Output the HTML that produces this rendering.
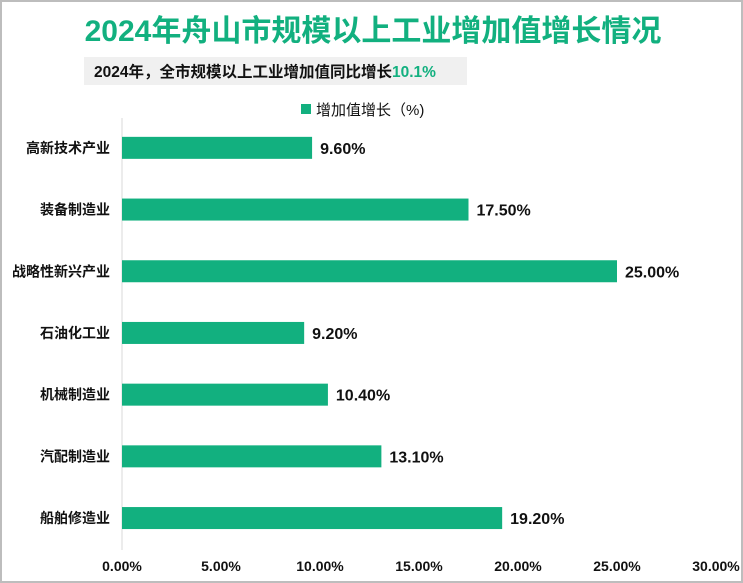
<!DOCTYPE html>
<html><head><meta charset="utf-8"><style>
body{margin:0;background:#fff;}
#c{position:relative;width:743px;height:583px;overflow:hidden;font-family:"Liberation Sans","Noto Sans CJK SC",sans-serif;}
</style></head><body>
<div id="c">
<svg width="743" height="583">
<rect x="1" y="1" width="741" height="581" fill="#fff" stroke="#bdbdbd" stroke-width="2"/>
<text x="373" y="41" text-anchor="middle" font-size="30" font-weight="bold" fill="#12b07f">2024年舟山市规模以上工业增加值增长情况</text>
<rect x="84" y="57" width="383" height="28" fill="#f0f0f0"/>
<text x="94" y="77" font-size="15.5" font-weight="bold" fill="#111">2024年，全市规模以上工业增加值同比增长<tspan fill="#12b07f">10.1%</tspan></text>
<rect x="301" y="104" width="10" height="10" fill="#12b07f"/>
<text x="316" y="115" font-size="15" fill="#111">增加值增长（%)</text>
<line x1="122" y1="118" x2="122" y2="550" stroke="#d9d9d9" stroke-width="1"/>
<g id="bars"></g>
<g id="ticks"></g>
</svg>
</div>
<script>
const categories=["高新技术产业","装备制造业","战略性新兴产业","石油化工业","机械制造业","汽配制造业","船舶修造业"];
const values=[9.6,17.5,25.0,9.2,10.4,13.1,19.2];
const tickValues=[0,5,10,15,20,25,30];
const tickLabels=["0.00%","5.00%","10.00%","15.00%","20.00%","25.00%","30.00%"];
const NS="http://www.w3.org/2000/svg";
const x0=122,x1=716,xmax=30;
function xs(v){return x0+(v/xmax)*(x1-x0);}
const top0=117,band=61.7;
function yc(i){return top0+band*(i+0.5);}
const bars=document.getElementById('bars');
categories.forEach((c,i)=>{
  const r=document.createElementNS(NS,'rect');
  r.setAttribute('x',x0);r.setAttribute('y',yc(i)-11);
  r.setAttribute('width',xs(values[i])-x0);r.setAttribute('height',22);
  r.setAttribute('fill','#12b07f');
  
  
  bars.appendChild(r);
  const t=document.createElementNS(NS,'text');
  t.setAttribute('x',x0-12);t.setAttribute('y',yc(i)+5);
  t.setAttribute('text-anchor','end');t.setAttribute('font-size','14');t.setAttribute('font-weight','bold');t.setAttribute('fill','#111');
  t.textContent=c;
  
  
  bars.appendChild(t);
  const v=document.createElementNS(NS,'text');
  v.setAttribute('x',xs(values[i])+8);v.setAttribute('y',yc(i)+6);
  v.setAttribute('font-size','16');v.setAttribute('font-weight','bold');v.setAttribute('fill','#111');
  v.textContent=values[i].toFixed(2)+'%';
  
  
  bars.appendChild(v);
});
const ticks=document.getElementById('ticks');
tickValues.forEach((tv,i)=>{
  const t=document.createElementNS(NS,'text');
  t.setAttribute('x',xs(tv));t.setAttribute('y',571);
  t.setAttribute('text-anchor','middle');t.setAttribute('font-size','14');t.setAttribute('font-weight','bold');t.setAttribute('fill','#111');
  t.textContent=tickLabels[i];
  
  
  ticks.appendChild(t);
});
</script>
</body></html>
